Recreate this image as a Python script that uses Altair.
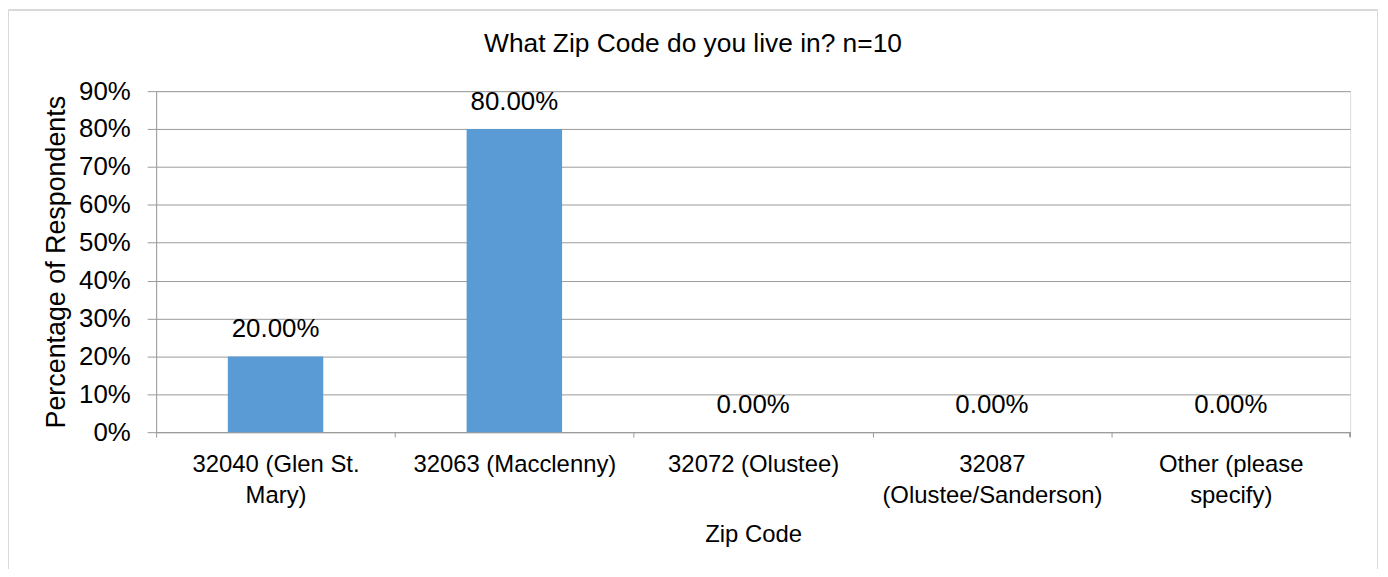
import altair as alt
import pandas as pd

categories = ["32040 (Glen St.|Mary)", "32063 (Macclenny)", "32072 (Olustee)",
              "32087|(Olustee/Sanderson)", "Other (please|specify)"]
values = [0.20, 0.80, 0.0, 0.0, 0.0]
y_ticks = [0, 0.1, 0.2, 0.3, 0.4, 0.5, 0.6, 0.7, 0.8, 0.9]

df = pd.DataFrame({"cat": categories, "pct": values})

W, H = 1201, 343
FONT = "Liberation Sans"
GRID = "#9a9a9a"
band = W / len(categories)

x_enc = alt.X("cat:N", sort=categories, title="Zip Code",
              scale=alt.Scale(paddingInner=0, paddingOuter=0),
              axis=alt.Axis(labelExpr="split(datum.value, '|')", labelAngle=0,
                            labelFontSize=24, labelFont=FONT, labelColor="black",
                            labelPadding=16, labelLineHeight=31, labelLimit=400,
                            tickOffset=-band / 2, labelOffset=band / 2,
                            tickSize=5, tickColor=GRID, domainColor=GRID,
                            titleFontSize=24, titleFont=FONT, titleFontWeight="normal",
                            titleColor="black", titlePadding=15))
y_enc = alt.Y("pct:Q", title="Percentage of Respondents",
              scale=alt.Scale(domain=[0, 0.9], nice=False),
              axis=alt.Axis(values=y_ticks, format=".0%", labelFontSize=26, labelFont=FONT,
                            labelColor="black", labelPadding=17, tickSize=9,
                            labelOverlap=False, labelFlush=False,
                            tickColor=GRID, domainColor=GRID, gridColor=GRID,
                            titleFontSize=27, titleFont=FONT, titleFontWeight="normal",
                            titleColor="black", titlePadding=8))

bars = alt.Chart(df).mark_bar(size=96, color="#5B9BD5").encode(x=x_enc, y=y_enc)
labels = alt.Chart(df).mark_text(fontSize=26, font=FONT, color="black",
                                 baseline="alphabetic", dy=-19).encode(
    x=x_enc, y=y_enc,
    text=alt.Text("pct:Q", format=".2%"))
end_tick = alt.Chart(df).mark_rule(color=GRID).encode(
    x=alt.value(W), y=alt.value(H), y2=alt.value(H + 5))
border = alt.Chart(df).mark_rect(fill=None, stroke="#d9d9d9", strokeWidth=1, clip=False).encode(
    x=alt.value(-148.5), x2=alt.value(1228.5), y=alt.value(-81.5), y2=alt.value(H + 160))

chart = alt.layer(border, bars, labels, end_tick).properties(
    width=W, height=H,
    title=alt.TitleParams("What Zip Code do you live in? n=10", fontSize=26.5, font=FONT,
                          fontWeight="normal", color="black", frame="bounds",
                          anchor="middle", dy=52),
    autosize=alt.AutoSizeParams(type="none"),
    padding={"left": 149, "top": 82, "right": 30, "bottom": 136},
).configure_view(stroke=None).configure(background="white")

chart.save("out.html", embed_options={"renderer": "svg", "actions": False})
